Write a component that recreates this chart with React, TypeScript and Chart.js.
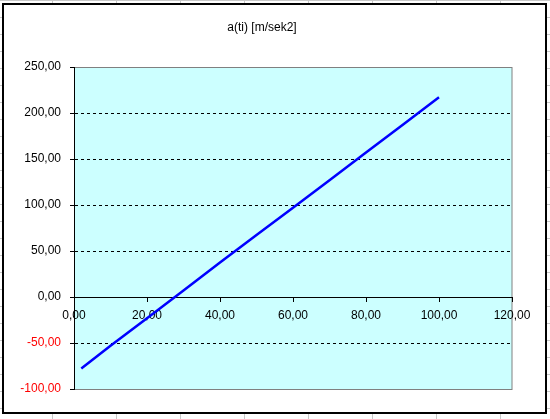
import React, { useEffect, useRef } from "react";
import { Chart, registerables } from "chart.js";

Chart.register(...registerables);

const chartTitle = "a(ti) [m/sek2]";
const timeValues = [2, 10, 20, 30, 40, 50, 60, 70, 80, 90, 100];
const accelValues = [-77.8, -53, -23, 7, 37.5, 67.5, 97, 127, 157, 187, 217];
const xTicks = { min: 0, max: 120, step: 20 };
const yTicks = { min: -100, max: 250, step: 50 };

const fmt = (v: number) => v.toFixed(2).replace(".", ",");

const decorPlugin = {
  id: "decor",
  beforeDraw(chart: any) {
    const ctx = chart.ctx;
    const W = chart.width;
    const H = chart.height;
    ctx.save();
    ctx.fillStyle = "#ffffff";
    ctx.fillRect(0, 0, W, H);
    // spreadsheet grid lines outside frame
    ctx.strokeStyle = "#c8c8c8";
    ctx.lineWidth = 1;
    ctx.beginPath();
    for (let x = 52.5; x < W; x += 64) {
      ctx.moveTo(x, 0);
      ctx.lineTo(x, H);
    }
    for (let y = 0.5; y < H; y += 17) {
      ctx.moveTo(0, y);
      ctx.lineTo(W, y);
    }
    ctx.stroke();
    // chart object
    ctx.fillStyle = "#ffffff";
    ctx.fillRect(3, 4, 543, 409);
    ctx.strokeStyle = "#000000";
    ctx.lineWidth = 2;
    ctx.strokeRect(3, 4, 543, 409);
    // title
    ctx.fillStyle = "#000000";
    ctx.font = "12px 'Liberation Sans', Arial, sans-serif";
    ctx.textAlign = "center";
    ctx.textBaseline = "middle";
    ctx.fillText(chartTitle, 262, 28);
    // plot area
    const a = chart.chartArea;
    ctx.fillStyle = "#CCFFFF";
    ctx.fillRect(a.left, a.top, a.right - a.left, a.bottom - a.top);
    ctx.strokeStyle = "#808080";
    ctx.lineWidth = 1;
    ctx.strokeRect(a.left + 0.5, a.top + 0.5, a.right - a.left - 0.5, a.bottom - a.top);
    ctx.restore();
  },
};

export default function App() {
  const ref = useRef<HTMLCanvasElement>(null);

  useEffect(() => {
    document.body.style.margin = "0";
    const canvas = ref.current!;
    const chart = new Chart(canvas, {
      type: "scatter",
      data: {
        datasets: [
          {
            data: timeValues.map((t, i) => ({ x: t, y: accelValues[i] })),
            showLine: true,
            borderColor: "#0000FF",
            backgroundColor: "#0000FF",
            borderWidth: 2.5,
            pointRadius: 0,
            tension: 0,
          },
        ],
      },
      options: {
        animation: false,
        responsive: false,
        maintainAspectRatio: false,
        layout: { padding: { left: 0, right: 38, top: 67, bottom: 30 } },
        plugins: { legend: { display: false }, title: { display: false }, tooltip: { enabled: false } },
        scales: {
          x: {
            type: "linear",
            position: { y: 0 } as any,
            min: xTicks.min,
            max: xTicks.max,
            ticks: {
              stepSize: xTicks.step,
              color: "#000000",
              padding: 7,
              maxRotation: 0,
              autoSkip: false,
              callback: (v: any) => fmt(Number(v)),
              font: { family: "'Liberation Sans', Arial, sans-serif", size: 12 },
            },
            grid: {
              drawOnChartArea: false,
              drawTicks: true,
              tickLength: 4,
              tickColor: "#000000",
              tickWidth: 1,
            },
            border: { display: true, color: "#000000", width: 1 },
          },
          y: {
            type: "linear",
            position: "left",
            min: yTicks.min,
            max: yTicks.max,
            afterFit: (scale: any) => {
              scale.width = 74;
            },
            ticks: {
              stepSize: yTicks.step,
              padding: 9,
              color: (c: any) => (c.tick && c.tick.value < 0 ? "#FF0000" : "#000000"),
              callback: (v: any) => fmt(Number(v)),
              font: { family: "'Liberation Sans', Arial, sans-serif", size: 12 },
            },
            grid: {
              drawOnChartArea: true,
              color: (c: any) => {
                const v = c.tick ? c.tick.value : null;
                return v === 0 || v === yTicks.max || v === yTicks.min ? "rgba(0,0,0,0)" : "#000000";
              },
              lineWidth: 1,
              tickLength: 4,
              tickColor: "#000000",
              tickWidth: 1,
              tickBorderDash: [],
            } as any,
            border: { display: true, color: "#000000", width: 1, dash: [3, 3] },
          },
        },
      },
      plugins: [decorPlugin],
    } as any);
    return () => chart.destroy();
  }, []);

  return (
    <div style={{ position: "absolute", left: 0, top: 0, width: 550, height: 419 }}>
      <canvas ref={ref} width={550} height={419} style={{ width: 550, height: 419, display: "block" }} />
    </div>
  );
}
